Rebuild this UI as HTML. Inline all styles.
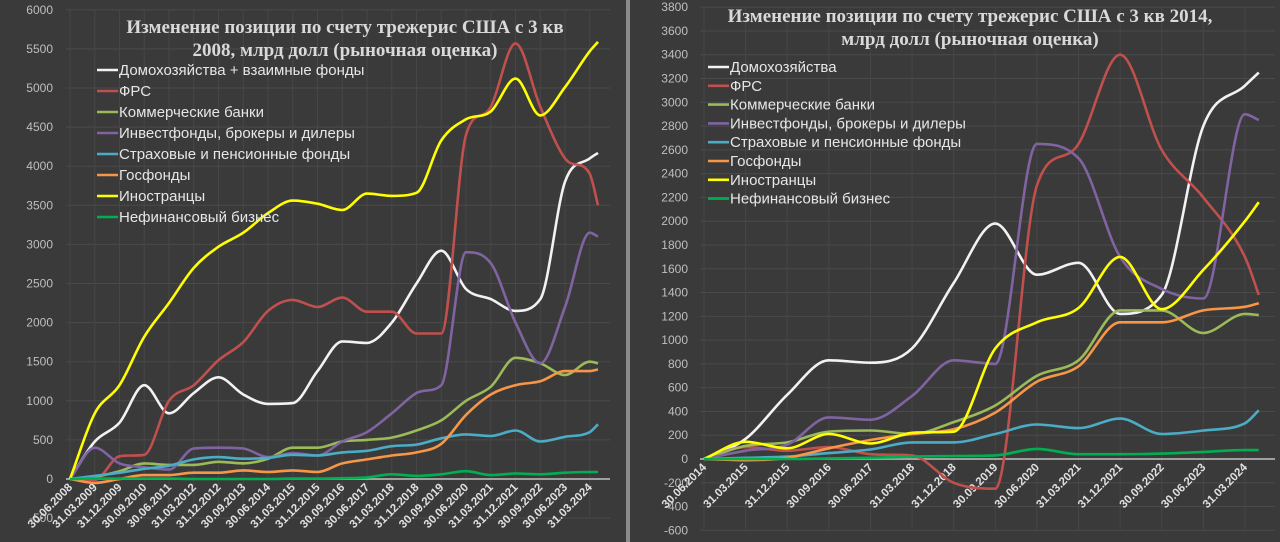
<!DOCTYPE html>
<html><head><meta charset="utf-8">
<style>
body{margin:0;background:#3a3a3a;}
svg{display:block;}
text{font-family:"Liberation Sans","DejaVu Sans",sans-serif;}
.ttl{font-family:"Liberation Serif","DejaVu Serif",serif;font-weight:bold;font-size:19px;fill:#d9d9d9;}
.leg{font-size:15px;fill:#e6e6e6;}
.yt{font-size:12px;fill:#bfbfbf;}
.xt{font-size:11.5px;fill:#e0e0e0;font-weight:bold;}
</style></head>
<body>
<svg id="chart" width="1280" height="542" viewBox="0 0 1280 542">
<rect x="0" y="0" width="1280" height="542" fill="#3a3a3a"/>
<rect x="626" y="0" width="4" height="542" fill="#8a8a8a"/>
<g id="left"></g>
<g id="right"></g>
</svg>
<script>
// ---------- data: left panel (since Q3 2008) ----------
const leftLabels=["30.06.2008","31.03.2009","31.12.2009","30.09.2010","30.06.2011","31.03.2012","31.12.2012","30.09.2013","30.06.2014","31.03.2015","31.12.2015","30.09.2016","30.06.2017","31.03.2018","31.12.2018","30.09.2019","30.06.2020","31.03.2021","31.12.2021","30.09.2022","30.06.2023","31.03.2024"];
const leftQuarters=[0,3,6,9,12,15,18,21,24,27,30,33,36,39,42,45,48,51,54,57,60,63,64];
const leftHouse=[0,480,720,1200,840,1100,1300,1080,960,970,1380,1760,1740,2000,2500,2920,2430,2300,2150,2300,3800,4100,4170];
const leftFed=[0,-10,290,310,1000,1200,1520,1750,2150,2290,2200,2320,2140,2140,1860,1860,4400,4760,5570,4760,4100,3900,3500];
const leftBanks=[0,30,100,200,180,180,220,200,260,400,400,480,500,530,620,750,1000,1180,1550,1480,1330,1500,1480];
const leftFunds=[0,400,200,150,120,390,400,390,280,330,300,480,600,840,1100,1200,2900,2760,2000,1480,2200,3150,3100];
const leftInsur=[0,40,80,130,170,250,280,260,270,310,300,340,360,420,440,520,570,550,620,480,540,600,700];
const leftGov=[0,-50,0,50,50,80,80,110,90,110,90,200,250,300,340,450,820,1080,1200,1250,1380,1380,1400];
const leftForeign=[0,840,1200,1820,2250,2700,2970,3150,3400,3560,3520,3440,3650,3620,3660,4330,4600,4700,5120,4650,5010,5470,5590];
const leftNonfin=[0,5,5,5,5,0,0,0,0,5,5,10,20,60,40,60,100,50,70,60,80,90,90];
const leftTicks=[-500,0,500,1000,1500,2000,2500,3000,3500,4000,4500,5000,5500,6000];
// ---------- data: right panel (since Q3 2014) ----------
const rightLabels=["30.06.2014","31.03.2015","31.12.2015","30.09.2016","30.06.2017","31.03.2018","31.12.2018","30.09.2019","30.06.2020","31.03.2021","31.12.2021","30.09.2022","30.06.2023","31.03.2024"];
const rightQuarters=[0,3,6,9,12,15,18,21,24,27,30,33,36,39,40];
const rightHouse=[0,170,540,830,810,930,1480,1980,1550,1650,1220,1380,2800,3140,3250];
const rightFed=[0,100,70,100,40,30,-200,-250,2300,2650,3400,2600,2200,1700,1380];
const rightBanks=[0,110,140,230,240,210,310,450,700,830,1250,1250,1060,1220,1210];
const rightFunds=[0,70,120,350,330,530,830,800,2650,2530,1700,1430,1350,2900,2850];
const rightInsur=[0,10,20,50,80,140,140,210,290,260,340,210,240,300,410];
const rightGov=[0,-10,10,90,160,210,250,390,650,780,1150,1150,1250,1280,1310];
const rightForeign=[0,145,90,210,130,220,230,930,1150,1270,1700,1260,1590,2000,2160];
const rightNonfin=[0,0,0,5,10,20,25,30,85,40,40,45,60,75,75];
const rightTicks=[-600,-400,-200,0,200,400,600,800,1000,1200,1400,1600,1800,2000,2200,2400,2600,2800,3000,3200,3400,3600,3800];

const colors={house:"#f2f2f2",fed:"#c0504d",banks:"#9bbb59",funds:"#8064a2",insur:"#4bacc6",gov:"#f79646",foreign:"#ffff00",nonfin:"#00b050"};
const NS="http://www.w3.org/2000/svg";
function mk(tag,attrs,parent){const e=document.createElementNS(NS,tag);for(const k in attrs)e.setAttribute(k,attrs[k]);parent.appendChild(e);return e;}
// monotone cubic (Fritsch-Carlson) to avoid overshoot
function smooth(pts){
 const n=pts.length,dx=[],m=[],t=[];
 for(let i=0;i<n-1;i++){dx.push(pts[i+1][0]-pts[i][0]);m.push((pts[i+1][1]-pts[i][1])/dx[i]);}
 t[0]=m[0];t[n-1]=m[n-2];
 for(let i=1;i<n-1;i++){ if(m[i-1]*m[i]<=0) t[i]=0; else { t[i]=(m[i-1]+m[i])/2;
   const a=t[i]/m[i-1],b=t[i]/m[i],s=a*a+b*b; if(s>9){const f=3/Math.sqrt(s);t[i]=f*(m[i-1]+m[i])/2;} } }
 let d="M"+pts[0][0].toFixed(1)+","+pts[0][1].toFixed(1);
 for(let i=0;i<n-1;i++){const h=dx[i]/3;
  d+=" C"+(pts[i][0]+h).toFixed(1)+","+(pts[i][1]+t[i]*h).toFixed(1)+" "+(pts[i+1][0]-h).toFixed(1)+","+(pts[i+1][1]-t[i+1]*h).toFixed(1)+" "+pts[i+1][0].toFixed(1)+","+pts[i+1][1].toFixed(1);}
 return d;}

function panel(g,cfg){
 const xs=q=>cfg.x0+q*cfg.qw, ys=v=>cfg.y0-v*cfg.k;
 cfg.ticks.forEach(t=>{
  const gl=mk("line",{x1:cfg.gx0,x2:cfg.gx1,y1:ys(t),y2:ys(t),stroke:"#4a4a4a","stroke-width":1},g);
  
  
  const tx=mk("text",{x:cfg.yx,y:ys(t)+4,"text-anchor":"end",class:"yt"},g);tx.textContent=t;
  
  
 });
 cfg.labels.forEach((l,i)=>{
  const x=xs(i*3);
  const vl=mk("line",{x1:x,x2:x,y1:ys(cfg.ticks[cfg.ticks.length-1]),y2:ys(cfg.ticks[0]),stroke:"#464646","stroke-width":1},g);
  
  
  const tx=mk("text",{x:x+3,y:ys(0)+9,"text-anchor":"end",class:"xt",transform:"rotate(-45 "+(x+3)+" "+(ys(0)+9)+")"},g);tx.textContent=l;
  
  
 });
 const zl=mk("line",{x1:cfg.gx0,x2:cfg.gx1,y1:ys(0),y2:ys(0),stroke:"#a0a0a0","stroke-width":2},g);
 
 
 cfg.series.forEach(s=>{
  const pts=s.v.map((v,i)=>[xs(cfg.q[i]),ys(v)]);
  const p=mk("path",{d:smooth(pts),fill:"none",stroke:s.c,"stroke-width":2.6,"stroke-linejoin":"round"},g);
  
  
 });
 cfg.title.forEach((t,i)=>{const tx=mk("text",{x:cfg.tx,y:cfg.ty+i*23,"text-anchor":"middle",class:"ttl"},g);tx.textContent=t;
  
  });
 cfg.series.forEach((s,i)=>{const y=cfg.ly+i*cfg.ls;
  const ln=mk("line",{x1:cfg.lx,x2:cfg.lx+21,y1:y,y2:y,stroke:s.c,"stroke-width":2.6},g);
  
  
  const tx=mk("text",{x:cfg.lx+22,y:y+5,class:"leg"},g);tx.textContent=s.label;
  
  });
}

panel(document.getElementById("left"),{x0:70,qw:8.25,y0:479,k:0.0782,gx0:66,gx1:610,yx:53,
 ticks:leftTicks,labels:leftLabels,q:leftQuarters,
 title:["Изменение позиции по счету трежерис США с 3 кв","2008, млрд долл (рыночная оценка)"],tx:345,ty:33,
 lx:97,ly:70,ls:21,
 series:[
  {n:"households",label:"Домохозяйства + взаимные фонды",c:colors.house,v:leftHouse},
  {n:"fed",label:"ФРС",c:colors.fed,v:leftFed},
  {n:"banks",label:"Коммерческие банки",c:colors.banks,v:leftBanks},
  {n:"funds",label:"Инвестфонды, брокеры и дилеры",c:colors.funds,v:leftFunds},
  {n:"insurance",label:"Страховые и пенсионные фонды",c:colors.insur,v:leftInsur},
  {n:"gov",label:"Госфонды",c:colors.gov,v:leftGov},
  {n:"foreign",label:"Иностранцы",c:colors.foreign,v:leftForeign},
  {n:"nonfin",label:"Нефинансовый бизнес",c:colors.nonfin,v:leftNonfin}]});

panel(document.getElementById("right"),{x0:704,qw:13.87,y0:459,k:0.1189,gx0:700,gx1:1275,yx:688,
 ticks:rightTicks,labels:rightLabels,q:rightQuarters,
 title:["Изменение позиции по счету трежерис США с 3 кв 2014,","млрд долл (рыночная оценка)"],tx:970,ty:22,
 lx:708,ly:67,ls:18.8,
 series:[
  {n:"households",label:"Домохозяйства",c:colors.house,v:rightHouse},
  {n:"fed",label:"ФРС",c:colors.fed,v:rightFed},
  {n:"banks",label:"Коммерческие банки",c:colors.banks,v:rightBanks},
  {n:"funds",label:"Инвестфонды, брокеры и дилеры",c:colors.funds,v:rightFunds},
  {n:"insurance",label:"Страховые и пенсионные фонды",c:colors.insur,v:rightInsur},
  {n:"gov",label:"Госфонды",c:colors.gov,v:rightGov},
  {n:"foreign",label:"Иностранцы",c:colors.foreign,v:rightForeign},
  {n:"nonfin",label:"Нефинансовый бизнес",c:colors.nonfin,v:rightNonfin}]});
</script>
</body></html>
